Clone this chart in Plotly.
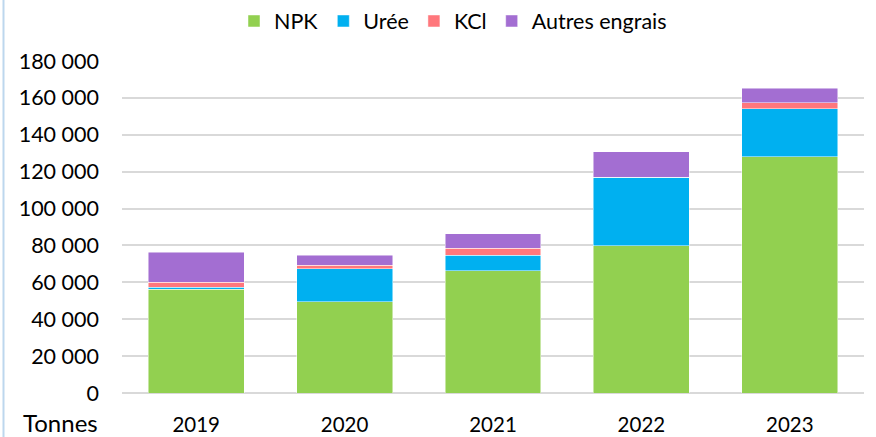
import plotly.graph_objects as go

years = ["2019", "2020", "2021", "2022", "2023"]
npk = [56200, 49500, 66300, 79900, 128000]
uree = [1100, 17900, 8400, 37100, 26000]
kcl = [2700, 2000, 3800, 0, 3400]
autres = [16300, 5400, 7900, 13800, 7800]

series_names = ["NPK", "Urée", "KCl", "Autres engrais"]
series_vals = [npk, uree, kcl, autres]
colors = ["#92D050", "#00B0F0", "#FF777C", "#A36ED2"]
tick_vals = [0, 20000, 40000, 60000, 80000, 100000, 120000, 140000, 160000, 180000]
tick_text = ["0", "20 000", "40 000", "60 000", "80 000", "100 000", "120 000", "140 000", "160 000", "180 000"]

FONT = "Lato, 'Open Sans', sans-serif"
W, H = 876, 437
ML, MR, MT, MB = 122, 12, 61, 44
PW, PH = W - ML - MR, H - MT - MB

fig = go.Figure()
for name, vals, col in zip(series_names, series_vals, colors):
    fig.add_trace(go.Bar(
        x=years, y=vals, name=name,
        marker=dict(color=col, line=dict(color="rgba(255,255,255,0.6)", width=0.8)),
    ))

fig.update_layout(
    barmode="stack",
    bargap=0.354,
    width=W, height=H,
    margin=dict(l=ML, r=MR, t=MT, b=MB, autoexpand=False),
    paper_bgcolor="white",
    plot_bgcolor="white",
    font=dict(family=FONT, size=21, color="#000000"),
    showlegend=True,
    legend=dict(
        orientation="h", x=453 / W, xanchor="center", xref="container",
        y=1 - 21 / H, yanchor="middle", yref="container",
        font=dict(size=21.5), itemwidth=30,
        traceorder="normal", bgcolor="rgba(0,0,0,0)",
    ),
    xaxis=dict(
        showgrid=False, showline=False, zeroline=False, automargin=False,
        ticks="", ticklabelstandoff=17,
        tickfont=dict(size=20.5),
    ),
    yaxis=dict(
        range=[0, 180000], automargin=False,
        tickvals=tick_vals, ticktext=tick_text,
        showgrid=True, gridcolor="#D9D9D9", gridwidth=1.5,
        zeroline=True, zerolinecolor="#D9D9D9", zerolinewidth=1.5,
        showline=False, ticks="", ticklabelstandoff=22,
        tickfont=dict(size=21.5),
    ),
)

fig.add_annotation(
    text="Tonnes", xref="paper", yref="paper",
    x=-(ML - 100) / PW, xanchor="right",
    y=-(422 - 393) / PH, yanchor="middle",
    showarrow=False, font=dict(size=24, family=FONT, color="#000000"),
)

fig.add_shape(
    type="line", xref="paper", yref="paper",
    x0=-(ML - 3.5) / PW, x1=-(ML - 3.5) / PW,
    y0=-MB / PH, y1=1 + MT / PH,
    line=dict(color="#BDD7EE", width=2),
)

fig.write_html(
    "out.html",
    config={"displayModeBar": False},
    post_script="document.body.style.margin='0px';",
)
